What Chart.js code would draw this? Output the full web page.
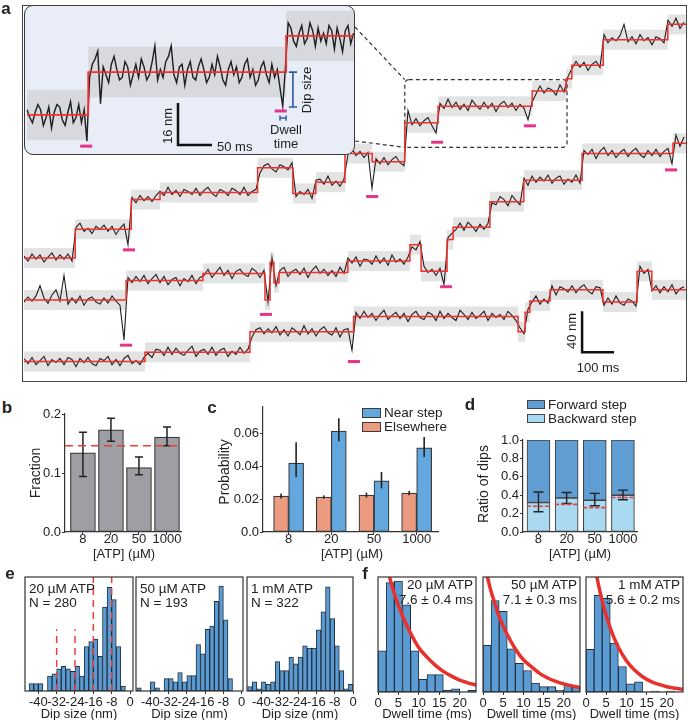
<!DOCTYPE html>
<html>
<head>
<meta charset="utf-8">
<script src="https://cdn.jsdelivr.net/npm/chart.js@4.4.0/dist/chart.umd.min.js"></script>
<style>
  body { margin: 0; background: #fff; }
  #fig { position: relative; width: 688px; height: 720px; overflow: hidden;
         font-family: "Liberation Sans", Arial, sans-serif; color: #222; }
  #fig canvas { position: absolute; }
  .t { position: absolute; white-space: nowrap; line-height: 1; z-index: 5; }
  .box { position: absolute; box-sizing: border-box; }
</style>
</head>
<body>
<div id="fig"></div>
<script>
// ---------------- panel a: optical trap traces (ms, nm) ----------------
const rowA_t = [0, 160, 335, 425, 730, 840, 912, 1003, 1088, 1190, 1294, 1588, 1694, 1712, 1810, 2012];
const rowA_y = [119, 147, 176, 183, 207, 182, 193, 221, 213, 251, 267, 282, 294, 307, 332, 347];
const rowB_t = [0, 319, 559, 753, 769, 781, 797, 1012, 1206, 1241, 1322, 1341, 1456, 1562, 1744, 2028];
const rowB_y = [78, 97, 104, 78, 115, 95, 105, 116, 132, 106, 137, 149, 174, 195, 221, 231];
const rowC_t = [0, 378, 706, 1030, 1544, 1566, 1581, 1644, 1809, 1916, 1962];
const rowC_y = [18, 27, 47, 62, 47, 66, 77, 88, 76, 106, 88];
const traceEnd = 2069;
const traceDt = 12.5;

// deviation of the raw trace from the fitted step level, one value per sample
const rowA_dev = [2,-3,4,-1,3,-4,1,5,-2,3, -1,4,-3,2,6,-2,1,-4,3,0, 4,-2,3,-5,1,5,-15,2,-3,4,
  -1,3,-2,4,1,-3,5,-2,2,-4, 3,1,-2,4,-3,2,5,-1,-4,3, 1,-3,4,2,-2,5,-3,1,3,-5,
  2,4,-1,-4,3,1,-2,5,-3,2, -1,4,-5,2,3,-2,6,-3,1,-4, 3,-1,5,-2,2,-4,1,-34,3,-2,
  4,-3,2,5,-1,-4,12,-2,4,-3, 2,5,-3,-10,3,-2,7,-1,4,-3, 2,-4,6,1,-3,4,-2,3,-5,2,
  5,-1,3,-4,2,-2,-13,4,-3,5, -2,3,1,-4,6,-1,2,-3,4,-2, 3,-5,1,4,-2,5,-3,2,-1,4,
  15,-2,3,-4,5,-1,2,-5,3,1, -3,4,-2,6,-4,2];
const rowB_dev = [-2,3,-1,4,14,2,-3,5,10,-1, 24,-4,2,-3,4,-5,1,3,-2,-4, 2,-3,4,-1,-5,-39,3,-2,4,-1,
  5,-3,2,6,-2,4,-4,1,3,-5, 2,-1,5,-3,3,-2,4,-4,1,6, -2,3,-5,2,4,-1,-3,5,2,-4,
  3,-2,4,-3,2,5,-4,1,3,-2, 4,-5,2,6,-1,3,-3,2,-4,5, -1,3,-2,4,-5,2,1,-3,5,-2,
  3,-4,6,-1,2,-3,4,-2,-5,3, 5,-1,2,-4,3,-13,2,6,-2,4, -3,5,1,-4,3,-2,4,-1,-3,5,
  2,-4,6,1,-3,2,-5,4,-2,3, -1,5,-3,2,4,-4,1,-2,5,-3, 3,-1,4,-5,2,6,-2,3,-4,1,
  4,-3,2,5,-1,-4,3,-2,4,-3, 2,5,-10,8,-3,6];
const rowC_dev = [3,-2,4,-3,1,5,-4,2,-1,3, -3,4,2,-5,3,-1,4,-2,-4,3, 1,5,-3,2,-4,3,6,-2,1,-3,
  4,-1,-5,3,2,-3,5,-2,4,-1, -3,2,6,-4,1,3,-2,5,-3,2, 4,-4,1,-2,5,-1,3,-5,2,4,
  -2,3,-1,5,-3,2,-4,4,1,-3, 6,-2,3,-4,2,5,-1,-3,4,-5, 2,3,-18,4,-2,5,-1,3,-4,2,
  6,-3,1,4,-2,3,-5,2,5,-1, -3,4,2,-4,5,-2,3,-1,-4,6, 2,-3,4,-2,1,5,-4,3,-1,2,
  -3,5,1,-4,4,-2,3,-1,5,-3, 2,-2,4,-5,3,1,-2,4,-3,2, 5,-1,-4,3,2,-3,4,-2,6,-1,
  -3,3,1,-4,5,-2,2,-1,4,-3, 3,-2,5,-4,1,3];
const dipMarks = [[328,127],[1088,179],[1291,232],[1581,248],[319,34],[756,64],[1319,91],[2022,205],[1031,18]];
const scaleBarA = [[1744,67],[1744,27],[1844,27]];   // 40 nm, 100 ms
const zoomWin = [1190, 1697, 227, 293];

// inset (magnified part of row A)
const inset_t = [3, 93, 384];
const inset_y = [14.9, 31.2, 45.0];
const insetEnd = 484;
const insetT0 = 3, insetDt = 4;
const inset_dev = [2,-1,-3,1,4,2,-4,-1,3,-5, 1,4,3,-2,-4,1,5,-3,-1,4, -3,2,-10,-2,3,5,8,-12,2,-1,
  -4,3,6,1,-3,-2,4,2,-5,-1, 3,-2,5,2,-3,-1,4,10,-3,1, -2,4,6,10,-1,-4,2,3,-5,1,
  4,-2,-3,2,5,1,-4,-2,3,-1, 6,2,-3,-5,1,4,-1,2,-4,-2, 3,5,-2,1,-5,-3,2,4,-1,-4,
  3,-2,1,-6,-13,2,5,3,-2,-4, 1,4,-3,-1,5,2,-4,3,-2,1, -3,4,2,-5,3,-1,-6,2,4,-3,1];
const insetDips = [[90,3.0],[376,16.4]];
const scaleBarInset = [[225,19.4],[225,3.4],[275,3.4]];   // 16 nm, 50 ms
const dipSizeBar = [[388,31.2],[400,31.2],[394,31.2],[394,17.9],[388,17.9],[400,17.9]];
const dwellBar = [[375,14.7],[375,12.7],[375,13.7],[384,13.7],[384,14.7],[384,12.7]];

// ---------------- panels b-d ----------------
const atpLabels = ['8', '20', '50', '1000'];
const fracVals = [0.134, 0.173, 0.109, 0.161];
const fracLo = [0.094, 0.154, 0.097, 0.146];
const fracHi = [0.169, 0.193, 0.127, 0.178];
const fracRef = 0.146;

const nearVals = [0.0418, 0.0612, 0.0310, 0.0510];
const nearLo = [0.0333, 0.0550, 0.0264, 0.0455];
const nearHi = [0.0545, 0.0690, 0.0364, 0.0576];
const elseVals = [0.0218, 0.0212, 0.0224, 0.0236];
const elseLo = [0.0203, 0.0202, 0.0209, 0.0223];
const elseHi = [0.0233, 0.0222, 0.0239, 0.0249];

const backVals = [0.32, 0.37, 0.345, 0.40];
const fwdVals = [0.68, 0.63, 0.655, 0.60];
const ratioLo = [0.22, 0.31, 0.285, 0.35];
const ratioHi = [0.435, 0.43, 0.42, 0.455];
const ratioRef = [0.28, 0.30, 0.265, 0.375];

// ---------------- panel e: dip size histograms (2 nm bins) ----------------
const dipTicks = [-40, -32, -24, -16, -8, 0];
const dipHists = [
  { name: '20 µM ATP', n: 'N = 280', start: -44, range: [-45.8, 1.3], ymax: 46.2,
    counts: [3,3,3,0,6,7,9,10,9,8,10,6,18,20,21,14,34,42,37,18,2] },
  { name: '50 µM ATP', n: 'N = 193', start: -46, range: [-46.3, 0.6], ymax: 36.9,
    counts: [1,0,0,3,1,0,4,4,3,6,3,5,5,15,12,20,21,29,34,23,4] },
  { name: '1 mM ATP', n: 'N = 322', start: -46, range: [-46.3, 0], ymax: 50.4,
    counts: [2,4,1,4,3,4,13,9,9,15,12,15,20,19,19,27,35,46,32,20,9,1,3] }
];

// ---------------- panel f: dwell time histograms (2 ms bins) ----------------
const dwellTicks = [0, 5, 10, 15, 20];
const fitT = [0.5, 1, 2, 3, 4, 6, 8, 10, 12, 14, 16, 18, 20, 22, 24];
const dwellHists = [
  { name: '20 µM ATP', tau: '7.6 ± 0.4 ms', ymax: 72.6,
    counts: [26,69,70,55,26,8,11,11,1,2,0,1],
    fit: [98,92,81,71,62,48,37,28,22,17,13,10,7.5,5.8,4.4] },
  { name: '50 µM ATP', tau: '7.1 ± 0.3 ms', ymax: 64.1,
    counts: [26,51,45,24,16,12,5,3,3,1,4,3],
    fit: [69.5,65,56,49,42,32,24,18,14,10.4,7.8,5.9,4.5,3.4,2.5] },
  { name: '1 mM ATP', tau: '5.6 ± 0.2 ms', ymax: 112.9,
    counts: [42,95,92,48,25,8,10,0,1,0,1,0],
    fit: [167,153,128,107,89.5,62.7,43.9,30.7,21.5,15,10.5,7.4,5.2,3.6,2.5] }
];

// ======================================================================
Chart.defaults.font.family = '"Liberation Sans", Arial, sans-serif';
Chart.defaults.font.size = 13;
Chart.defaults.color = '#222';
Chart.defaults.animation = false;
Chart.defaults.events = [];
Chart.defaults.plugins.legend.display = false;
Chart.defaults.plugins.tooltip.enabled = false;

const fig = document.getElementById('fig');

function canvasAt(left, top, w, h, z) {
  const c = document.createElement('canvas');
  c.width = w; c.height = h;
  c.style.left = left + 'px'; c.style.top = top + 'px';
  c.style.width = w + 'px'; c.style.height = h + 'px';
  c.style.zIndex = z || 1;
  fig.appendChild(c);
  return c.getContext('2d');
}

function txt(s, x, y, o) {
  o = o || {};
  const d = document.createElement('div');
  d.className = 't';
  d.textContent = s;
  d.style.left = x + 'px'; d.style.top = y + 'px';
  d.style.fontSize = (o.size || 13) + 'px';
  if (o.bold) d.style.fontWeight = 'bold';
  if (o.color) d.style.color = o.color;
  const ax = o.align === 'l' ? '0' : (o.align === 'r' ? '-100%' : '-50%');
  d.style.transform = 'translate(' + ax + ',-50%)' + (o.rot ? ' rotate(-90deg)' : '');
  fig.appendChild(d);
}

function boxDiv(left, top, w, h, css) {
  const d = document.createElement('div');
  d.className = 'box';
  d.style.left = left + 'px'; d.style.top = top + 'px';
  d.style.width = w + 'px'; d.style.height = h + 'px';
  Object.assign(d.style, css);
  fig.appendChild(d);
}

function levelAt(ts, ys, t) {
  let k = 0;
  for (let i = 0; i < ts.length; i++) if (ts[i] <= t) k = i;
  return ys[k];
}
function traceData(ts, ys, dev, t0, dt) {
  return dev.map((d, i) => ({ x: t0 + i * dt, y: levelAt(ts, ys, t0 + i * dt) + d }));
}
function stepData(ts, ys, tEnd) {
  return ts.map((t, i) => ({ x: t, y: ys[i] })).concat([{ x: tEnd, y: ys[ys.length - 1] }]);
}
const pts = arr => arr.map(p => ({ x: p[0], y: p[1] }));

// ---------------- plugins ----------------
const stepBoxes = {
  id: 'stepBoxes',
  beforeDatasetsDraw(chart, args, opts) {
    if (!opts.rows) return;
    const { ctx, scales: { x, y } } = chart;
    ctx.save();
    ctx.fillStyle = opts.color;
    opts.rows.forEach(r => {
      r.t.forEach((t0, i) => {
        const t1 = i + 1 < r.t.length ? r.t[i + 1] : r.end;
        const xa = x.getPixelForValue(t0), xb = x.getPixelForValue(t1);
        const ya = y.getPixelForValue(r.y[i] + opts.half), yb = y.getPixelForValue(r.y[i] - opts.half);
        ctx.fillRect(xa, ya, xb - xa, yb - ya);
      });
    });
    ctx.restore();
  }
};

const zoomGuide = {
  id: 'zoomGuide',
  beforeDatasetsDraw(chart, args, opts) {
    if (!opts.win) return;
    const { ctx, scales: { x, y } } = chart;
    const x0 = x.getPixelForValue(opts.win[0]), x1 = x.getPixelForValue(opts.win[1]);
    const y0 = y.getPixelForValue(opts.win[3]), y1 = y.getPixelForValue(opts.win[2]);
    ctx.save();
    ctx.strokeStyle = '#333'; ctx.lineWidth = 1.2; ctx.setLineDash([4, 3]);
    ctx.beginPath();
    if (ctx.roundRect) ctx.roundRect(x0, y0, x1 - x0, y1 - y0, 4); else ctx.rect(x0, y0, x1 - x0, y1 - y0);
    ctx.moveTo(opts.from[0][0], opts.from[0][1]); ctx.lineTo(x0, y0);
    ctx.moveTo(opts.from[1][0], opts.from[1][1]); ctx.lineTo(x0, y1);
    ctx.stroke();
    ctx.restore();
  }
};

const errbars = {
  id: 'errbars',
  afterDatasetsDraw(chart, args, opts) {
    if (!opts.bars) return;
    const { ctx, scales: { x, y } } = chart;
    ctx.save();
    ctx.strokeStyle = opts.color || '#222'; ctx.lineWidth = opts.width || 1.5;
    opts.bars.forEach(b => {
      const px = x.getPixelForValue(b.x), p1 = y.getPixelForValue(b.lo), p2 = y.getPixelForValue(b.hi);
      ctx.beginPath();
      ctx.moveTo(px, p1); ctx.lineTo(px, p2);
      if (opts.cap) {
        ctx.moveTo(px - opts.cap, p1); ctx.lineTo(px + opts.cap, p1);
        ctx.moveTo(px - opts.cap, p2); ctx.lineTo(px + opts.cap, p2);
      }
      ctx.stroke();
    });
    ctx.restore();
  }
};

const refLines = {
  id: 'refLines',
  afterDatasetsDraw(chart, args, opts) {
    if (!opts.lines) return;
    const { ctx, chartArea: a, scales: { x, y } } = chart;
    ctx.save();
    ctx.strokeStyle = '#e8413c'; ctx.lineWidth = opts.width || 1.5; ctx.setLineDash(opts.dash || [6, 4]);
    opts.lines.forEach(l => {
      ctx.beginPath();
      if (l.x !== undefined) {
        const px = x.getPixelForValue(l.x);
        const top = l.top !== undefined ? y.getPixelForValue(l.top) : a.top;
        ctx.moveTo(px, a.bottom); ctx.lineTo(px, top);
      } else {
        const xa = l.x0 !== undefined ? x.getPixelForValue(l.x0) : a.left;
        const xb = l.x1 !== undefined ? x.getPixelForValue(l.x1) : a.right;
        const py = y.getPixelForValue(l.y);
        ctx.moveTo(xa, py); ctx.lineTo(xb, py);
      }
      ctx.stroke();
    });
    ctx.restore();
  }
};

const frame = {
  id: 'frame',
  afterDraw(chart, args, opts) {
    if (!opts.on) return;
    const { ctx, chartArea: a } = chart;
    ctx.save();
    ctx.strokeStyle = '#333'; ctx.lineWidth = 1.2;
    ctx.strokeRect(a.left, a.top, a.right - a.left, a.bottom - a.top);
    ctx.restore();
  }
};

Chart.register(stepBoxes, zoomGuide, errbars, refLines, frame);

// ---------------- panel a ----------------
boxDiv(22, 5, 665, 377, { border: '1.5px solid #444' });
txt('a', 6, 8, { bold: true, size: 17 });

const rowsA = [[rowA_t, rowA_y, rowA_dev], [rowB_t, rowB_y, rowB_dev], [rowC_t, rowC_y, rowC_dev]];
const mainSets = [];
rowsA.forEach(r => {
  mainSets.push({ data: traceData(r[0], r[1], r[2], 0, traceDt), borderColor: '#1e1e1e', borderWidth: 1.1, pointRadius: 0, order: 3 });
  mainSets.push({ data: stepData(r[0], r[1], traceEnd), borderColor: '#f0302c', borderWidth: 1.5, pointRadius: 0, stepped: true, order: 2 });
});
mainSets.push({ data: pts(dipMarks), showLine: false, pointStyle: 'line', pointRadius: 6,
  pointBorderWidth: 3, pointBorderColor: '#e6338a', order: 1 });
mainSets.push({ data: pts(scaleBarA), borderColor: '#111', borderWidth: 2.5, pointRadius: 0, order: 1 });

new Chart(canvasAt(24, 6, 662, 374, 1), {
  type: 'line',
  data: { datasets: mainSets },
  options: {
    responsive: false, devicePixelRatio: 1,
    layout: { padding: 0, autoPadding: false },
    scales: {
      x: { type: 'linear', display: false, min: 0, max: 2068.75 },
      y: { type: 'linear', display: false, min: 0, max: 364.9 }
    },
    plugins: {
      stepBoxes: { color: '#e3e3e4', half: 9.75, rows: [
        { t: rowA_t, y: rowA_y, end: traceEnd }, { t: rowB_t, y: rowB_y, end: traceEnd }, { t: rowC_t, y: rowC_y, end: traceEnd }] },
      zoomGuide: { win: zoomWin, from: [[331, 21], [331, 135]] }
    }
  }
});
txt('40 nm', 571, 331, { rot: true });
txt('100 ms', 598, 367);

// inset
boxDiv(24, 5, 331, 150, { background: '#e8edf7', borderRadius: '9px', zIndex: 2 });
boxDiv(24, 5, 331, 150, { border: '1.5px solid #3a3a3a', borderRadius: '9px', zIndex: 4 });
new Chart(canvasAt(25, 6, 329, 148, 3), {
  type: 'line',
  data: { datasets: [
    { data: traceData(inset_t, inset_y, inset_dev, insetT0, insetDt), borderColor: '#1e1e1e', borderWidth: 1.4, pointRadius: 0, order: 3 },
    { data: stepData(inset_t, inset_y, insetEnd), borderColor: '#f0302c', borderWidth: 1.8, pointRadius: 0, stepped: true, order: 2 },
    { data: pts(insetDips), showLine: false, pointStyle: 'line', pointRadius: 6, pointBorderWidth: 3, pointBorderColor: '#e6338a', order: 1 },
    { data: pts(scaleBarInset), borderColor: '#111', borderWidth: 2.5, pointRadius: 0, order: 1 },
    { data: pts(dipSizeBar), borderColor: '#2a5aa8', borderWidth: 1.6, pointRadius: 0, order: 1 },
    { data: pts(dwellBar), borderColor: '#2a5aa8', borderWidth: 1.4, pointRadius: 0, order: 1 }
  ] },
  options: {
    responsive: false, devicePixelRatio: 1,
    layout: { padding: 0, autoPadding: false },
    scales: {
      x: { type: 'linear', display: false, min: 0, max: 483.8 },
      y: { type: 'linear', display: false, min: 0, max: 56.4 }
    },
    plugins: { stepBoxes: { color: '#d8d9de', half: 9.6, rows: [{ t: inset_t, y: inset_y, end: insetEnd }] } }
  }
});
txt('16 nm', 167, 126, { rot: true });
txt('50 ms', 217, 146, { align: 'l' });
txt('Dip size', 306, 90, { rot: true });
txt('Dwell', 286, 129);
txt('time', 286, 143);

// ---------------- helpers for the small panels ----------------
function panelChart(area, yw, xh, config) {
  const padL = 10, padT = 10, padR = 20;
  const left = area[0] - yw - padL, top = area[1] - padT;
  const w = area[2] - area[0] + yw + padL + padR, h = area[3] - area[1] + padT + xh;
  config.options.responsive = false;
  config.options.devicePixelRatio = 1;
  config.options.layout = { padding: { left: padL, top: padT, right: padR, bottom: 0 }, autoPadding: false };
  config.options.scales.x.afterFit = s => { s.height = xh; };
  if (config.options.scales.y.display !== false) config.options.scales.y.afterFit = s => { s.width = yw; };
  return new Chart(canvasAt(left, top, w, h, 1), config);
}
function linAxis(min, max, ticks, fmt, border, pad) {
  return {
    type: 'linear', min: min, max: max, offset: false,
    afterBuildTicks: s => { s.ticks = ticks.map(v => ({ value: v })); },
    ticks: { callback: fmt, autoSkip: false, maxRotation: 0, minRotation: 0, padding: pad === undefined ? 1 : pad,
      color: '#222', font: { size: 13 } },
    grid: { drawOnChartArea: false, drawTicks: true, tickLength: 3, color: '#333', offset: false },
    border: { display: border !== false, color: '#333', width: 1.2 }
  };
}
const idx = [0, 1, 2, 3];
const atpFmt = v => atpLabels[v];

// ---------------- panel b ----------------
txt('b', 7, 407, { bold: true, size: 17 });
panelChart([65, 414, 181, 532], 40, 24, {
  type: 'bar',
  data: { datasets: [{ data: fracVals.map((v, i) => ({ x: i, y: v })), backgroundColor: '#9d9fa5',
    borderColor: '#3a3a3a', borderWidth: 1.2, borderSkipped: false, barThickness: 25 }] },
  options: {
    scales: { x: linAxis(-0.64, 3.5, idx, atpFmt, true, -3), y: linAxis(0, 0.2, [0, 0.1, 0.2], v => v.toFixed(1)) },
    plugins: {
      errbars: { cap: 4, width: 1.5, bars: idx.map(i => ({ x: i, lo: fracLo[i], hi: fracHi[i] })) },
      refLines: { lines: [{ y: fracRef }], dash: [8, 5] }
    }
  }
});
txt('Fraction', 35, 473, { rot: true, size: 14 });
txt('[ATP] (µM)', 124, 553, { size: 13 });

// ---------------- panel c ----------------
txt('c', 212, 407, { bold: true, size: 17 });
panelChart([263, 407, 438, 532], 40, 24, {
  type: 'bar',
  data: { datasets: [
    { data: elseVals.map((v, i) => ({ x: i - 0.176, y: v })), backgroundColor: '#ea9b80', borderColor: '#3a3a3a',
      borderWidth: 1.2, borderSkipped: false, barThickness: 15, grouped: false },
    { data: nearVals.map((v, i) => ({ x: i + 0.176, y: v })), backgroundColor: '#62a8de', borderColor: '#3a3a3a',
      borderWidth: 1.2, borderSkipped: false, barThickness: 15, grouped: false }
  ] },
  options: {
    scales: { x: linAxis(-0.6, 3.5, idx, atpFmt, true, -3),
      y: linAxis(0, 0.0758, [0, 0.02, 0.04, 0.06], v => (v === 0 ? '0.0' : v.toFixed(2))) },
    plugins: {
      errbars: { cap: 0, width: 1.6, bars: idx.map(i => ({ x: i - 0.176, lo: elseLo[i], hi: elseHi[i] }))
        .concat(idx.map(i => ({ x: i + 0.176, lo: nearLo[i], hi: nearHi[i] }))) }
    }
  }
});
txt('Probability', 224, 472, { rot: true, size: 14 });
txt('[ATP] (µM)', 352, 553, { size: 13 });
boxDiv(362, 408, 19, 10, { background: '#62a8de', border: '1px solid #3a3a3a' });
txt('Near step', 384, 413, { align: 'l', size: 13.5 });
boxDiv(362, 422, 19, 10, { background: '#ea9b80', border: '1px solid #3a3a3a' });
txt('Elsewhere', 384, 427, { align: 'l', size: 13.5 });

// ---------------- panel d ----------------
txt('d', 470, 404, { bold: true, size: 17 });
panelChart([523, 440, 637, 532], 40, 24, {
  type: 'bar',
  data: { datasets: [
    { data: backVals.map((v, i) => ({ x: i, y: v })), backgroundColor: '#a9daf1', borderColor: '#444',
      borderWidth: 1.1, borderSkipped: false, barThickness: 23 },
    { data: fwdVals.map((v, i) => ({ x: i, y: v })), backgroundColor: '#5f9dd3', borderColor: '#444',
      borderWidth: 1.1, borderSkipped: false, barThickness: 23 }
  ] },
  options: {
    scales: {
      x: Object.assign(linAxis(-0.55, 3.5, idx, atpFmt, true, -3), { stacked: true }),
      y: Object.assign(linAxis(0, 1, [0, 0.2, 0.4, 0.6, 0.8, 1.0], v => v.toFixed(1)), { stacked: true })
    },
    plugins: {
      errbars: { cap: 5, width: 1.4, bars: idx.map(i => ({ x: i, lo: ratioLo[i], hi: ratioHi[i] })) },
      refLines: { lines: idx.map(i => ({ y: ratioRef[i], x0: i - 0.41, x1: i + 0.41 })), dash: [4, 2], width: 1.6 }
    }
  }
});
txt('Ratio of dips', 483, 484, { rot: true, size: 14 });
txt('[ATP] (µM)', 580, 553, { size: 13 });
boxDiv(527, 400, 18, 9, { background: '#5f9dd3', border: '1px solid #444' });
txt('Forward step', 548, 405, { align: 'l', size: 13.5 });
boxDiv(527, 414, 18, 9, { background: '#a9daf1', border: '1px solid #444' });
txt('Backward step', 548, 419, { align: 'l', size: 13.5 });

// ---------------- panel e ----------------
txt('e', 10, 573, { bold: true, size: 17 });
const eAreas = [[25, 577, 133, 691], [136, 577, 243, 691], [247, 577, 353, 691]];
dipHists.forEach((h, k) => {
  const a = eAreas[k];
  panelChart(a, 0, 24, {
    type: 'bar',
    data: { datasets: [{ data: h.counts.map((c, i) => ({ x: h.start + 2 * i + 1, y: c })),
      backgroundColor: '#5b9bd3', borderColor: '#22303e', borderWidth: 1, borderSkipped: false,
      barPercentage: 1, categoryPercentage: 1 }] },
    options: {
      scales: { x: linAxis(h.range[0], h.range[1], dipTicks, v => String(v), false),
        y: { display: false, min: 0, max: h.ymax } },
      plugins: {
        frame: { on: true },
        refLines: k === 0 ? { lines: [{ x: -32, top: 25 }, { x: -24, top: 25 }, { x: -16 }, { x: -8 }], dash: [7, 5] } : {}
      }
    }
  });
  txt(h.name, a[0] + 4, 589, { align: 'l', size: 13.5 });
  txt(h.n, a[0] + 4, 603, { align: 'l', size: 13.5 });
  txt('Dip size (nm)', (a[0] + a[2]) / 2, 713, { size: 13 });
});

// ---------------- panel f ----------------
txt('f', 365, 573, { bold: true, size: 17 });
const fAreas = [[378, 577, 476, 692], [483, 577, 580, 692], [586, 577, 683, 692]];
dwellHists.forEach((h, k) => {
  const a = fAreas[k];
  panelChart(a, 0, 23, {
    type: 'bar',
    data: { datasets: [
      { type: 'line', data: fitT.map((t, i) => ({ x: t, y: h.fit[i] })), borderColor: '#e8302c', borderWidth: 3.5,
        pointRadius: 0, cubicInterpolationMode: 'monotone', order: 0 },
      { data: h.counts.map((c, i) => ({ x: 2 * i + 1, y: c })), backgroundColor: '#5b9bd3', borderColor: '#22303e',
        borderWidth: 1, borderSkipped: false, barPercentage: 1, categoryPercentage: 1, order: 1 }
    ] },
    options: {
      scales: { x: linAxis(0, 24, dwellTicks, v => String(v), false), y: { display: false, min: 0, max: h.ymax } },
      plugins: { frame: { on: true } }
    }
  });
  txt(h.name, a[2] - 3, 585, { align: 'r', size: 13.5 });
  txt(h.tau, a[2] - 3, 600, { align: 'r', size: 13.5 });
  txt('Dwell time (ms)', (a[0] + a[2]) / 2, 713, { size: 13 });
});
</script>
</body>
</html>
